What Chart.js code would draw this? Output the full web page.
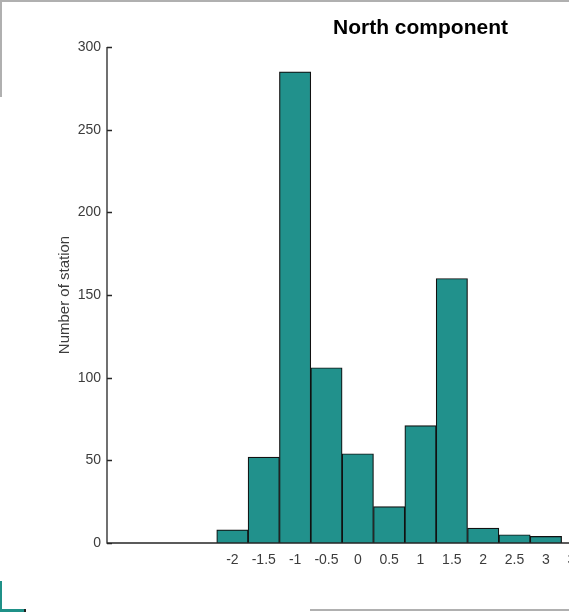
<!DOCTYPE html>
<html>
<head>
<meta charset="utf-8">
<script src="https://cdn.jsdelivr.net/npm/chart.js@4"></script>
<style>
  html, body { margin: 0; padding: 0; background: #fff; }
  body { width: 569px; height: 612px; overflow: hidden; position: relative; }
  #wrap { position: absolute; left: 0; top: 0; width: 800px; height: 612px; }
  .edge { position: absolute; }
</style>
</head>
<body>
<div id="wrap"><canvas id="hist"></canvas></div>
<!-- screenshot frame leftovers -->
<div class="edge" style="left:0;top:0;width:569px;height:2px;background:#b0b0b0"></div>
<div class="edge" style="left:0;top:0;width:2px;height:97px;background:#b0b0b0"></div>
<div class="edge" style="left:310px;top:609px;width:259px;height:2px;background:#b0b0b0"></div>
<div class="edge" style="left:0;top:581px;width:2px;height:31px;background:#1f9188"></div>
<div class="edge" style="left:0;top:609px;width:24px;height:3px;background:#1f9188"></div>
<div class="edge" style="left:24px;top:609px;width:2px;height:3px;background:#222"></div>
<script>
// Histogram bins (centres) and station counts
const binCenters = [-2, -1.5, -1, -0.5, 0, 0.5, 1, 1.5, 2, 2.5, 3];
const stationCounts = [8, 52, 285, 106, 54, 22, 71, 160, 9, 5, 4];

// Axis ticks
const xTickValues = [-2, -1.5, -1, -0.5, 0, 0.5, 1, 1.5, 2, 2.5, 3, 3.5, 4, 4.5, 5, 5.5, 6];
const yTickValues = [0, 50, 100, 150, 200, 250, 300];

const axisColor = "#262626";
const textColor = "#3c3c3c";
const fontFamily = "Liberation Sans, Arial, sans-serif";

// inward tick marks, MATLAB style
const inwardTicks = {
  id: "inwardTicks",
  afterDatasetsDraw(chart) {
    const { ctx, chartArea, scales } = chart;
    ctx.save();
    ctx.strokeStyle = axisColor;
    ctx.lineWidth = 1.3;
    ctx.beginPath();
    yTickValues.forEach((v) => {
      const y = Math.round(scales.y.getPixelForValue(v)) + 0.5;
      ctx.moveTo(chartArea.left, y);
      ctx.lineTo(chartArea.left + 5, y);
    });
    // axis lines
    ctx.moveTo(chartArea.left, chartArea.top);
    ctx.lineTo(chartArea.left, chartArea.bottom);
    ctx.lineTo(chartArea.right, chartArea.bottom);
    ctx.stroke();
    ctx.restore();
  },
};

const ctx = document.getElementById("hist").getContext("2d");

new Chart(ctx, {
  type: "bar",
  data: {
    datasets: [
      {
        data: binCenters.map((x, i) => ({ x: x, y: stationCounts[i] })),
        backgroundColor: "#21918c",
        borderColor: "#111",
        borderWidth: 1.2,
        barPercentage: 1,
        categoryPercentage: 1,
      },
    ],
  },
  options: {
    responsive: true,
    maintainAspectRatio: false,
    animation: false,
    layout: { padding: { left: 52, top: 16, right: 66, bottom: 35 } },
    plugins: {
      legend: { display: false },
      tooltip: { enabled: false },
      title: {
        display: true,
        text: "North component",
        fullSize: false,
        color: "#000",
        font: { family: fontFamily, size: 21, weight: "bold" },
        padding: { top: 0, bottom: 5.8 },
      },
    },
    scales: {
      x: {
        type: "linear",
        min: -4,
        max: 6,
        offset: false,
        border: { display: false },
        grid: { display: false, drawTicks: false },
        afterBuildTicks: (scale) => {
          scale.ticks = xTickValues.map((v) => ({ value: v }));
        },
        afterFit: (scale) => { scale.height = 34; },
        ticks: {
          color: textColor,
          padding: 9,
          maxRotation: 0,
          autoSkip: false,
          font: { family: fontFamily, size: 14 },
          callback: (v) => String(v),
        },
      },
      y: {
        min: 0,
        max: 300,
        border: { display: false },
        grid: { display: false, drawTicks: false },
        afterBuildTicks: (scale) => {
          scale.ticks = yTickValues.map((v) => ({ value: v }));
        },
        afterFit: (scale) => { scale.width = 55; },
        ticks: {
          color: textColor,
          padding: 6,
          font: { family: fontFamily, size: 14 },
        },
        title: {
          display: true,
          text: "Number of station",
          color: textColor,
          font: { family: fontFamily, size: 15 },
        },
      },
    },
  },
  plugins: [inwardTicks],
});
</script>
</body>
</html>
